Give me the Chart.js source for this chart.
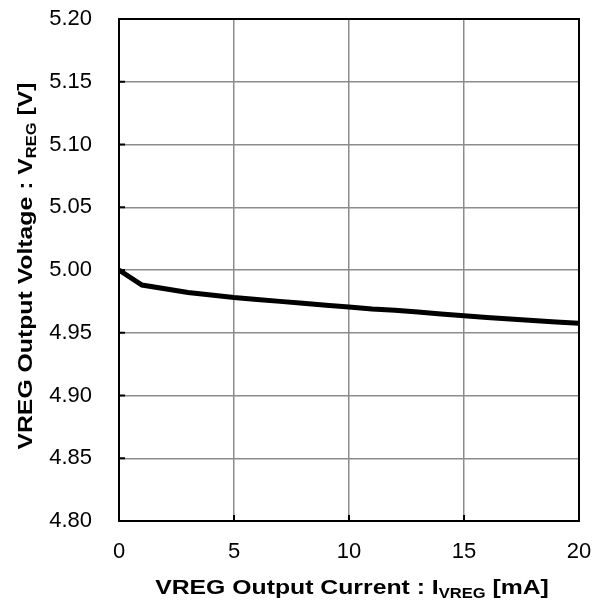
<!DOCTYPE html>
<html>
<head>
<meta charset="utf-8">
<script src="https://cdn.jsdelivr.net/npm/chart.js@4"></script>
<style>
  body { margin: 0; background: #fff; }
  #wrap { width: 603px; height: 605px; }
</style>
</head>
<body>
<div id="wrap"><canvas id="regChart" width="603" height="605"></canvas></div>
<script>
// output current (mA) vs VREG output voltage (V)
const currentMA = [0, 1, 2, 3, 4, 5, 6, 7, 8, 9, 10, 11, 12, 13, 14, 15, 16, 17, 18, 19, 20];
const voltageV = [5.000, 4.988, 4.985, 4.982, 4.980, 4.978, 4.9765, 4.975, 4.9735, 4.972, 4.9706,
                  4.969, 4.968, 4.9665, 4.965, 4.9636, 4.9622, 4.961, 4.9597, 4.9585, 4.9575];
const xTicks = [0, 5, 10, 15, 20];
const yTicks = [4.80, 4.85, 4.90, 4.95, 5.00, 5.05, 5.10, 5.15, 5.20];

const fontFam = '"Liberation Sans", Arial, sans-serif';

// title text with subscripts, plus frame and inward tick marks
const decorPlugin = {
    id: 'decor',
    afterDraw(chart) {
        const ctx = chart.ctx;
        const area = chart.chartArea;
        const xs = chart.scales.x, ys = chart.scales.y;

        ctx.save();
        ctx.strokeStyle = '#000';
        ctx.lineWidth = 2;
        ctx.strokeRect(area.left, area.top, area.right - area.left, area.bottom - area.top);

        ctx.beginPath();
        xTicks.forEach(v => {
            const px = xs.getPixelForValue(v);
            ctx.moveTo(px, area.bottom);
            ctx.lineTo(px, area.bottom - 6);
        });
        yTicks.forEach(v => {
            const py = ys.getPixelForValue(v);
            ctx.moveTo(area.left, py);
            ctx.lineTo(area.left + 6, py);
        });
        ctx.stroke();

        // bold title, stretched a little wider like the original
        function drawSub(parts, cx, cy) {
            const big = 'bold 21px ' + fontFam;
            const small = 'bold 14px ' + fontFam;
            const stretch = 1.18;
            let total = 0;
            parts.forEach(p => {
                ctx.font = p.sub ? small : big;
                total += ctx.measureText(p.t).width;
            });
            ctx.save();
            ctx.translate(cx, cy);
            ctx.scale(stretch, 1);
            let x = -total / 2;
            ctx.fillStyle = '#000';
            ctx.textBaseline = 'alphabetic';
            ctx.textAlign = 'left';
            parts.forEach(p => {
                ctx.font = p.sub ? small : big;
                ctx.fillText(p.t, x, p.sub ? 4 : 0);
                x += ctx.measureText(p.t).width;
            });
            ctx.restore();
        }

        drawSub([{t: 'VREG Output Current : I'}, {t: 'VREG', sub: true}, {t: ' [mA]'}],
                (area.left + area.right) / 2 + 3, 594);

        ctx.translate(32, (area.top + area.bottom) / 2 - 4);
        ctx.rotate(-Math.PI / 2);
        drawSub([{t: 'VREG Output Voltage : V'}, {t: 'REG', sub: true}, {t: ' [V]'}], 0, 0);
        ctx.restore();
    }
};

const ctx = document.getElementById('regChart').getContext('2d');
const chart = new Chart(ctx, {
    type: 'line',
    data: {
        datasets: [{
            data: currentMA.map((c, i) => ({x: c, y: voltageV[i]})),
            borderColor: '#000',
            borderWidth: 5,
            pointRadius: 0,
            tension: 0,
            fill: false
        }]
    },
    options: {
        responsive: false,
        animation: false,
        devicePixelRatio: 1,
        layout: { padding: { left: 0, right: 24, top: 19, bottom: 0 } },
        plugins: { legend: { display: false }, tooltip: { enabled: false } },
        scales: {
            x: {
                type: 'linear',
                min: 0, max: 20,
                afterBuildTicks: s => { s.ticks = xTicks.map(v => ({value: v})); },
                afterFit: s => { s.height = 84; s.paddingLeft = 0; s.paddingRight = 0; },
                grid: { color: '#8c8c8c', lineWidth: 1.5, drawTicks: false },
                border: { display: false },
                ticks: { color: '#000', font: { family: fontFam, size: 22 }, padding: 18,
                         maxRotation: 0, callback: v => String(v) }
            },
            y: {
                min: 4.8, max: 5.2,
                afterBuildTicks: s => { s.ticks = yTicks.map(v => ({value: v})); },
                afterFit: s => { s.width = 119; s.paddingTop = 0; s.paddingBottom = 0; },
                grid: { color: '#8c8c8c', lineWidth: 1.5, drawTicks: false },
                border: { display: false },
                ticks: { color: '#000', font: { family: fontFam, size: 22 }, padding: 27,
                         callback: v => Number(v).toFixed(2) }
            }
        }
    },
    plugins: [decorPlugin]
});
</script>
</body>
</html>
